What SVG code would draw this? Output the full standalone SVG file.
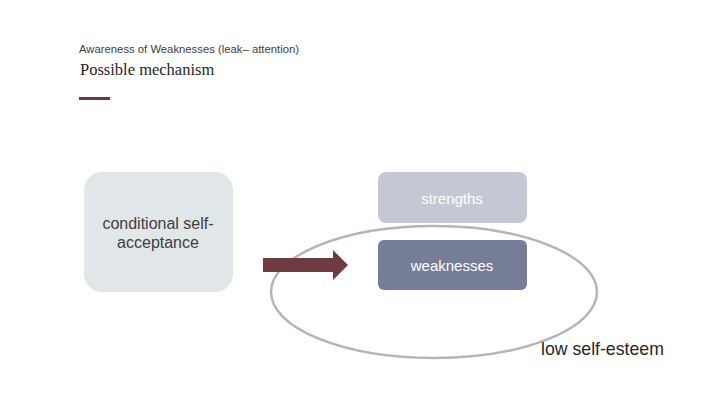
<svg xmlns="http://www.w3.org/2000/svg" width="720" height="405" viewBox="0 0 720 405">
<style>
.s{font-family:"Liberation Sans",Arial,sans-serif;}
.w{fill:#ffffff;font-size:15px;text-anchor:middle;}
</style>
<rect width="720" height="405" fill="#ffffff"/>
<text class="s" x="79" y="53" font-size="11.3" fill="#404040">Awareness of Weaknesses (leak– attention)</text>
<text x="80" y="75" font-family="'Liberation Serif','DejaVu Serif',serif" font-size="16.5" fill="#262626">Possible mechanism</text>
<rect x="79" y="97" width="31" height="3" fill="#6b3a42"/>
<g id="connectors">
<ellipse cx="434" cy="292" rx="163" ry="66" fill="none" stroke="#b2b5b9" stroke-width="2.5"/>
<polygon points="263,258 333,258 333,250 348,265 333,280 333,272 263,272" fill="#6e3b43"/>
</g>
<g id="node-conditional">
<rect x="84" y="172" width="149" height="120" rx="18" fill="#e1e6e8"/>
<text class="s" x="158" y="229" font-size="16" fill="#404040" text-anchor="middle">conditional self-</text>
<text class="s" x="158" y="248" font-size="16" fill="#404040" text-anchor="middle">acceptance</text>
</g>
<g id="node-strengths">
<rect x="378" y="172" width="149" height="51" rx="8" fill="#c5c8d2"/>
<text class="s w" x="452" y="204">strengths</text>
</g>
<g id="node-weaknesses">
<rect x="378" y="240" width="149" height="50" rx="6" fill="#767d97"/>
<text class="s w" x="452" y="271">weaknesses</text>
</g>
<text id="label-low" class="s" x="541" y="355" font-size="17.7" fill="#262626">low self-esteem</text>
</svg>
